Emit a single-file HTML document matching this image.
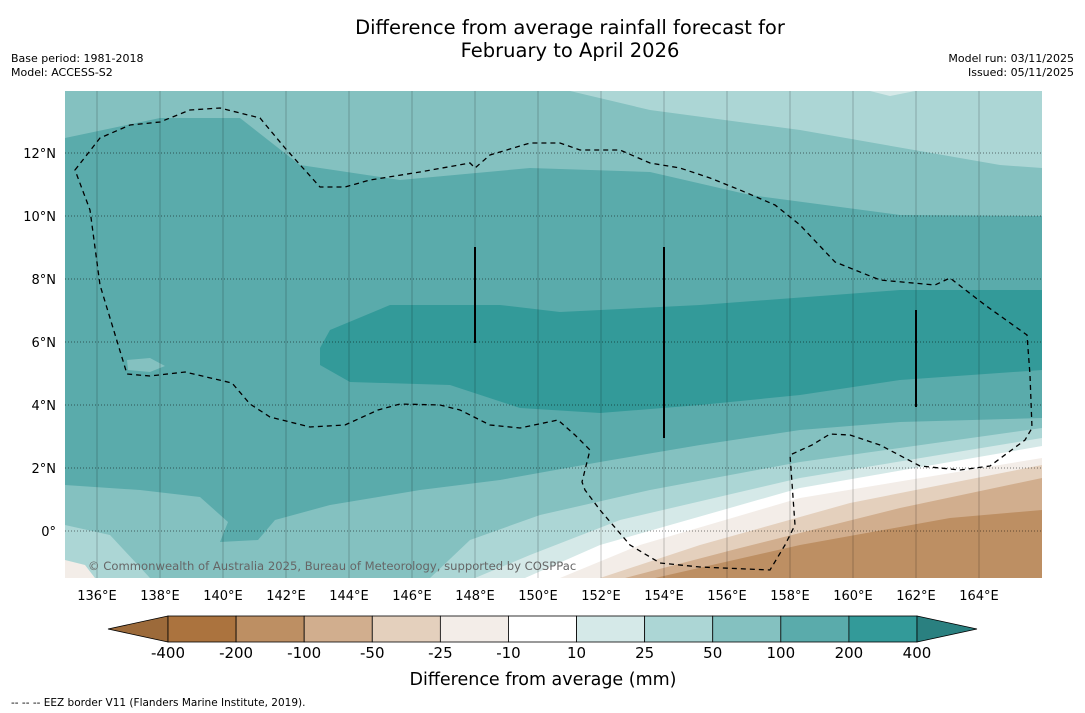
<!DOCTYPE html>
<html><head><meta charset="utf-8">
<style>
body{margin:0;background:#fff;font-family:"DejaVu Sans","Liberation Sans",sans-serif;}
#wrap{position:relative;width:1085px;height:713px;overflow:hidden;}
</style></head>
<body>
<div id="wrap">
<svg id="svg" width="1085" height="713" xmlns="http://www.w3.org/2000/svg" font-family="DejaVu Sans, Liberation Sans, sans-serif">
<text x="570" y="34" font-size="19.5" text-anchor="middle">Difference from average rainfall forecast for</text>
<text x="570" y="57" font-size="19.5" text-anchor="middle">February to April 2026</text>
<text x="11" y="62" font-size="11">Base period: 1981-2018</text>
<text x="11" y="76" font-size="11">Model: ACCESS-S2</text>
<text x="1074" y="62" font-size="11" text-anchor="end">Model run: 03/11/2025</text>
<text x="1074" y="76" font-size="11" text-anchor="end">Issued: 05/11/2025</text>
<defs><clipPath id="mapclip"><rect x="65" y="91" width="977" height="487"/></clipPath></defs>
<g id="map" clip-path="url(#mapclip)">
<rect x="65" y="91" width="977" height="487" fill="#5aabab"/>
<path d="M65,91 L65,138 L160,118 L240,118 L300,165 L400,180 L530,168 L650,172 L750,195 L900,215 L1042,216 L1042,91Z" fill="#84c1c0"/>
<path d="M570,91 L650,110 L800,130 L1000,165 L1042,168 L1042,91Z" fill="#acd6d5"/>
<path d="M870,91 L890,96 L915,91Z" fill="#d5e9e8"/>
<path d="M320,348 L330,330 L390,305 L500,305 L560,312 L700,305 L900,290 L1042,290 L1042,370 L900,380 L800,395 L700,405 L600,413 L520,408 L450,385 L350,382 L320,365Z" fill="#339a99"/>
<path d="M127,360 L150,358 L165,366 L150,372 L128,370Z" fill="#84c1c0"/>
<path d="M65,485 L140,490 L200,497 L228,522 L220,542 L258,540 L275,520 L330,505 L420,490 L500,480 L600,462 L700,445 L800,430 L900,422 L1042,418 L1042,578 L65,578Z" fill="#84c1c0"/>
<path d="M65,525 L110,535 L150,578 L65,578Z" fill="#acd6d5"/>
<path d="M65,560 L85,565 L95,578 L65,578Z" fill="#f3ede8"/>
<path d="M430,578 L470,540 L540,515 L650,490 L800,462 L1042,428 L1042,578Z" fill="#acd6d5"/>
<path d="M475,578 L530,555 L620,520 L800,478 L1042,438 L1042,578Z" fill="#d5e9e8"/>
<path d="M525,578 L600,545 L800,488 L1042,446 L1042,578Z" fill="#ffffff"/>
<path d="M560,578 L640,545 L800,498 L1042,458 L1042,578Z" fill="#f3ede8"/>
<path d="M600,578 L700,545 L850,503 L1042,465 L1042,578Z" fill="#e4d0bd"/>
<path d="M625,578 L740,548 L900,508 L1042,478 L1042,578Z" fill="#d1ae8e"/>
<path d="M655,578 L800,545 L950,518 L1042,510 L1042,578Z" fill="#bd8f63"/>
<g id="grid"></g>
<path d="M75,170 L100,138 L130,125 L160,122 L190,110 L220,108 L260,118 L285,148 L320,187 L345,187 L370,180 L420,172 L470,163 L475,168 L490,155 L530,143 L560,143 L580,150 L620,150 L650,163 L680,168 L710,178 L740,190 L775,205 L800,225 L835,262 L880,280 L935,285 L950,278 L985,305 L1027,335 L1030,375 L1032,428 L1025,440 L990,466 L960,470 L920,466 L880,445 L850,435 L830,434 L812,445 L790,455 L795,525 L785,545 L770,570 L700,567 L660,563 L630,545 L600,510 L585,490 L582,482 L590,450 L575,435 L558,420 L520,428 L490,425 L460,410 L440,405 L400,404 L378,410 L345,425 L310,427 L270,417 L250,404 L232,383 L185,372 L150,376 L127,374 L100,285 L90,210 Z" fill="none" stroke="#000" stroke-width="1.3" stroke-dasharray="5,4"/>
<line x1="475" y1="247" x2="475" y2="343" stroke="#000" stroke-width="2"/>
<line x1="664" y1="247" x2="664" y2="438" stroke="#000" stroke-width="2"/>
<line x1="916" y1="310" x2="916" y2="407" stroke="#000" stroke-width="2"/>
<text x="88" y="570" font-size="11.6" fill="#666">© Commonwealth of Australia 2025, Bureau of Meteorology, supported by COSPPac</text>
</g>
<g id="axes"></g>
<g id="cbar"></g>
<text x="543" y="685" font-size="17.5" text-anchor="middle">Difference from average (mm)</text>
<text x="11" y="706" font-size="10.5">--  --  -- EEZ border V11 (Flanders Marine Institute, 2019).</text>
</svg>
</div>
<script>
const lonTicks=[136,138,140,142,144,146,148,150,152,154,156,158,160,162,164];
const latTicks=[0,2,4,6,8,10,12];
const cbLabels=["-400","-200","-100","-50","-25","-10","10","25","50","100","200","400"];
const cbColors=["#9c6a3a","#ab733e","#bd8f63","#d1ae8e","#e4d0bd","#f3ede8","#ffffff","#d5e9e8","#acd6d5","#84c1c0","#5aabab","#339a99","#2a8080"];
const NS="http://www.w3.org/2000/svg";
function xLon(l){return 97+(l-136)*31.5;}
function yLat(l){return 531-l*31.5;}
function mk(t,a,p){const e=document.createElementNS(NS,t);for(const k in a)e.setAttribute(k,a[k]);p.appendChild(e);return e;}
const grid=document.getElementById('grid'),axes=document.getElementById('axes'),cb=document.getElementById('cbar');
lonTicks.forEach(l=>{const x=xLon(l);
 const g=mk('line',{x1:x,y1:91,x2:x,y2:578,stroke:'#000','stroke-opacity':0.22,'stroke-width':1},grid);
 
 
 const t=mk('text',{x:x,y:600,'font-size':13,'text-anchor':'middle'},axes);t.textContent=l+'°E';
 
 });
latTicks.forEach(l=>{const y=yLat(l);
 const g=mk('line',{x1:65,y1:y,x2:1042,y2:y,stroke:'#000','stroke-opacity':0.5,'stroke-width':1,'stroke-dasharray':'1,2'},grid);
 
 
 const t=mk('text',{x:56,y:y+5,'font-size':13,'text-anchor':'end'},axes);t.textContent=l===0?'0°':l+'°N';
 
 });
const x0=168,x1=917,n=cbColors.length-2,w=(x1-x0)/n,yt=616,h=26;
cbColors.forEach((c,i)=>{let e;
 if(i===0)e=mk('polygon',{points:`${x0},${yt} ${x0},${yt+h} 108,${yt+h/2}`,fill:c,stroke:'#000','stroke-width':0.8},cb);
 else if(i===cbColors.length-1)e=mk('polygon',{points:`${x1},${yt} ${x1},${yt+h} 977,${yt+h/2}`,fill:c,stroke:'#000','stroke-width':0.8},cb);
 else e=mk('rect',{x:x0+(i-1)*w,y:yt,width:w,height:h,fill:c,stroke:'#000','stroke-width':0.8},cb);
 
 });
cbLabels.forEach((s,i)=>{
 const t=mk('text',{x:x0+i*(x1-x0)/(cbLabels.length-1),y:658,'font-size':15,'text-anchor':'middle'},cb);t.textContent=s;
 
 });
</script>
</body></html>
